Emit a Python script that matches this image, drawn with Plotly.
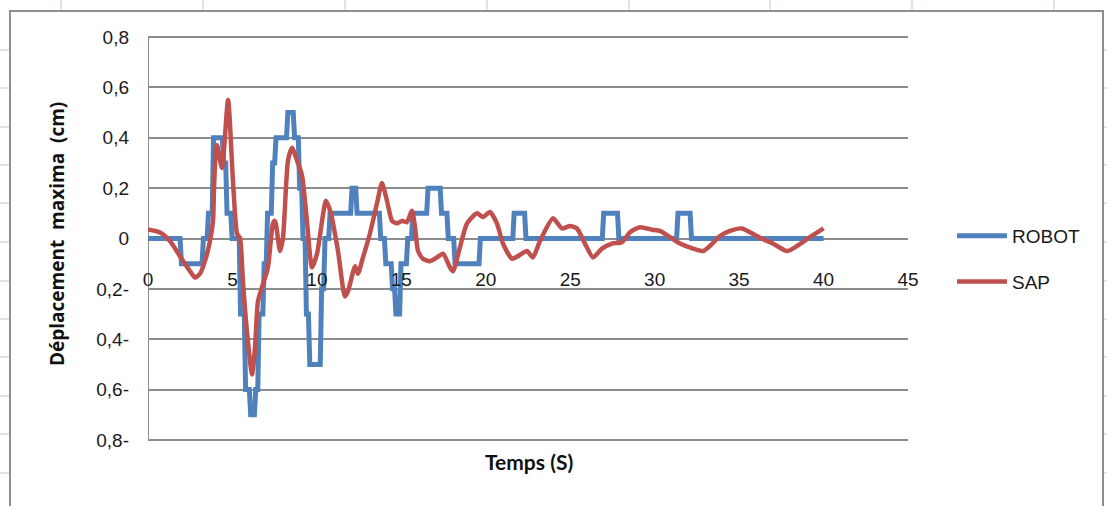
import plotly.graph_objects as go

# ---- data ------------------------------------------------------------
# ROBOT: stepped response (start time of each level, level value)
robot_t = [0, 1.9, 3.2, 3.5, 3.8, 4.4, 4.6, 4.9, 5.4, 5.7, 6.0, 6.3, 6.5, 6.8,
           7.0, 7.3, 7.5, 8.2, 8.6, 8.9, 9.1, 9.3, 9.5, 10.2, 10.4, 10.7,
           12.0, 12.3, 13.7, 14.0, 14.4, 14.6, 14.9, 15.3, 15.6, 16.5, 17.3,
           17.7, 18.1, 19.6, 21.6, 22.3, 26.9, 27.8, 31.3, 32.1, 40.0]
robot_v = [0, -0.1, 0, 0.1, 0.4, 0.3, 0.1, 0, -0.3, -0.6, -0.7, -0.6, -0.3, -0.1,
           0.1, 0.3, 0.4, 0.5, 0.4, 0.2, 0, -0.3, -0.5, -0.2, 0, 0.1,
           0.2, 0.1, 0, -0.1, -0.2, -0.3, -0.1, 0, 0.1, 0.2, 0.1,
           0, -0.1, 0, 0.1, 0, 0.1, 0, 0.1, 0, 0]

# SAP: computed displacement history
sap_t = [0.00, 0.71, 1.30, 1.89, 2.49, 2.78, 3.08, 3.37, 3.67, 3.85, 3.91, 4.03,
         4.09, 4.38, 4.74, 5.03, 5.27, 5.45, 5.62, 5.86, 6.16, 6.34, 6.51, 6.81,
         7.10, 7.40, 7.52, 7.82, 7.99, 8.29, 8.53, 8.82, 9.12, 9.41, 9.71, 10.01,
         10.54, 10.83, 11.25, 11.66, 11.84, 12.26, 12.43, 12.73, 13.14, 13.56,
         13.85, 14.15, 14.45, 14.74, 15.04, 15.33, 15.63, 15.81, 15.99, 16.28,
         16.70, 17.11, 17.47, 17.88, 18.06, 18.47, 18.89, 19.48, 19.83, 20.25,
         20.66, 21.02, 21.55, 21.91, 22.44, 22.79, 23.21, 23.98, 24.51, 24.99,
         25.40, 25.87, 26.35, 26.88, 27.47, 28.06, 28.54, 29.13, 29.84, 30.31,
         30.91, 31.50, 32.27, 32.86, 33.27, 33.87, 34.46, 35.17, 35.64, 36.23,
         37.00, 37.83, 38.43, 39.19, 40.00]
sap_v = [0.036, 0.024, -0.01, -0.07, -0.13, -0.155, -0.14, -0.09, -0.01, 0.07, 0.2, 0.36,
         0.37, 0.28, 0.55, 0.23, 0.02, 0.0, -0.17, -0.37, -0.54, -0.43, -0.25, -0.18,
         -0.115, 0.06, 0.07, -0.05, 0.0, 0.31, 0.36, 0.31, 0.25, 0.07, -0.115, -0.06,
         0.15, 0.10, -0.05, -0.23, -0.21, -0.11, -0.14, -0.075, 0.02, 0.14,
         0.22, 0.15, 0.07, 0.06, 0.07, 0.065, 0.11, 0.045, -0.05, -0.08,
         -0.09, -0.075, -0.06, -0.115, -0.13, -0.035, 0.06, 0.10, 0.085, 0.105,
         0.06, -0.02, -0.08, -0.07, -0.05, -0.075, -0.01, 0.08, 0.04, 0.05,
         0.04, -0.02, -0.075, -0.04, -0.02, -0.015, 0.025, 0.045, 0.035, 0.03,
         0.005, -0.02, -0.04, -0.05, -0.03, 0.01, 0.03, 0.04, 0.025, 0.003,
         -0.02, -0.05, -0.03, 0.005, 0.04]

x_ticks = [0, 5, 10, 15, 20, 25, 30, 35, 40, 45]
y_ticks = [0.8, 0.6, 0.4, 0.2, 0, -0.2, -0.4, -0.6, -0.8]
y_tick_text = ["0,8", "0,6", "0,4", "0,2", "0", "0,2-", "0,4-", "0,6-", "0,8-"]

# ---- step series as a polyline: each level change ramps over one sample
SAMPLE = 0.08
robot_x, robot_y = [robot_t[0]], [robot_v[0]]
for i in range(1, len(robot_t)):
    robot_x += [robot_t[i], robot_t[i] + SAMPLE]
    robot_y += [robot_v[i - 1], robot_v[i]]
robot_x[-1] = robot_t[-1]

# ---- layout geometry (pixels) ----------------------------------------
W, H = 1107, 506
# plot area; the value range is padded a little so the outer gridlines
# (at +/-0.8) are not clipped at the plot edges
PL, PR, PT, PB = 148, 908, 34, 443
Y_PAD = 0.012


def fx(px):
    return (px - PL) / (PR - PL)


def fy(py):
    return (PB - py) / (PB - PT)


BLUE = "#4F81BD"
RED = "#C0504D"
GRID = "#8c8c8c"
SHEET = "#d5dbe6"
TICK_FONT = dict(family="Liberation Sans, Arial, sans-serif", size=19, color="#1a1a1a")

fig = go.Figure()
fig.add_trace(go.Scatter(x=robot_x, y=robot_y, name="ROBOT", mode="lines",
                         line=dict(color=BLUE, width=5),
                         legendgroup="a"))
fig.add_trace(go.Scatter(x=sap_t, y=sap_v, name="SAP", mode="lines",
                         line=dict(color=RED, width=4.5, shape="spline", smoothing=0.6),
                         legendgroup="b"))

shapes = []
# worksheet cell borders around the chart object
for px in [61, 203, 345, 487, 629, 770, 912, 1054]:
    shapes.append(dict(type="line", xref="paper", yref="paper",
                       x0=fx(px), x1=fx(px), y0=fy(0), y1=fy(11),
                       line=dict(color=SHEET, width=1.5), layer="below"))
for py in [50, 88, 127, 165, 203, 242, 281, 319, 357, 396, 434, 473]:
    shapes.append(dict(type="line", xref="paper", yref="paper",
                       x0=fx(0), x1=fx(9), y0=fy(py), y1=fy(py),
                       line=dict(color=SHEET, width=1.5), layer="below"))
    shapes.append(dict(type="line", xref="paper", yref="paper",
                       x0=fx(1104), x1=fx(1107), y0=fy(py), y1=fy(py),
                       line=dict(color=SHEET, width=1.5), layer="below"))
# chart frame
shapes.append(dict(type="rect", xref="paper", yref="paper",
                   x0=fx(10), x1=fx(1103), y0=fy(515), y1=fy(11),
                   line=dict(color="#8f8f8f", width=2), layer="below"))

y_lo, y_hi = min(y_ticks) - Y_PAD, max(y_ticks) + Y_PAD

fig.update_layout(
    width=W, height=H,
    margin=dict(l=PL, r=W - PR, t=PT, b=H - PB),
    paper_bgcolor="white", plot_bgcolor="white",
    shapes=shapes,
    showlegend=True,
    legend=dict(x=fx(952), y=fy(217), xanchor="left", yanchor="top",
                font=dict(family="Liberation Sans, Arial, sans-serif", size=19, color="#1a1a1a"),
                bgcolor="rgba(0,0,0,0)", traceorder="grouped", tracegroupgap=18,
                itemwidth=50),
    xaxis=dict(range=[0, 45], tickvals=x_ticks, ticktext=[str(v) for v in x_ticks],
               showgrid=False, zeroline=False, showline=False,
               anchor="free", position=0.5, ticks="", ticklabelstandoff=27,
               tickfont=TICK_FONT, fixedrange=True),
    yaxis=dict(range=[y_lo, y_hi], tickvals=y_ticks, ticktext=y_tick_text,
               showgrid=True, gridcolor=GRID, gridwidth=2,
               zeroline=True, zerolinecolor=GRID, zerolinewidth=2,
               showline=False,
               ticks="", ticklabelstandoff=18, tickfont=TICK_FONT, fixedrange=True),
    annotations=[
        dict(text="<b>Temps (S)</b>", xref="paper", yref="paper", x=fx(529), y=fy(461),
             xanchor="center", yanchor="middle", showarrow=False,
             font=dict(family="Lato, Open Sans, sans-serif", size=21, color="#111")),
        dict(text="<b>Déplacement  maxima  (cm)</b>", xref="paper", yref="paper",
             x=fx(57), y=fy(234), textangle=-90, xanchor="center", yanchor="middle",
             showarrow=False,
             font=dict(family="Open Sans, sans-serif", size=19, color="#111")),
    ],
)

# vertical value axis line at x = 0, spanning the -0.8 .. 0.8 scale
fig.add_shape(type="line", xref="x", yref="y", x0=0, x1=0,
              y0=min(y_ticks), y1=max(y_ticks),
              line=dict(color=GRID, width=2), layer="below")

fig.write_html("out.html")
